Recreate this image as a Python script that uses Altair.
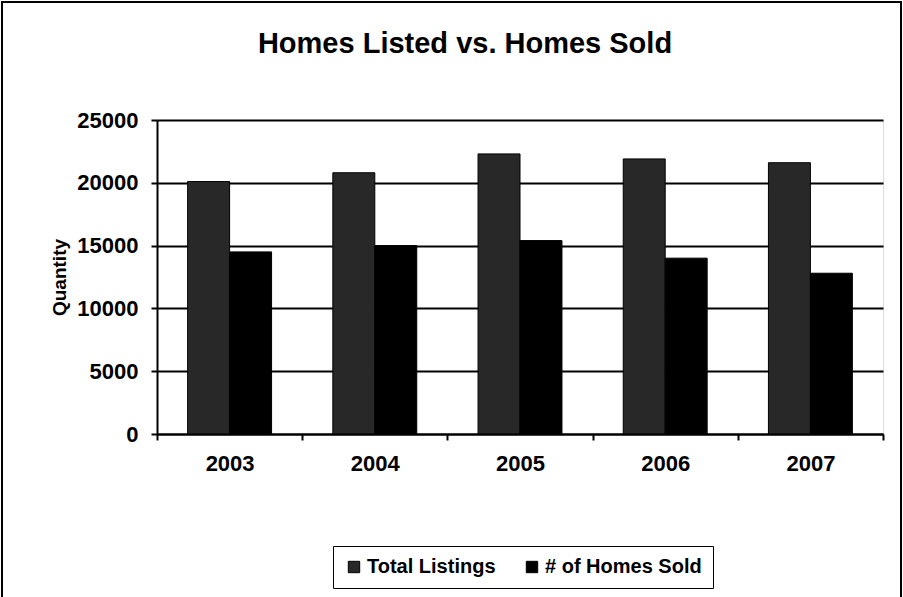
import altair as alt
import pandas as pd

years = ["2003", "2004", "2005", "2006", "2007"]
total_listings = [20100, 20800, 22300, 21900, 21600]
homes_sold = [14500, 15000, 15400, 14000, 12800]
series_names = ["Total Listings", "# of Homes Sold"]
series_colors = ["#282828", "#000000"]
y_ticks = [0, 5000, 10000, 15000, 20000, 25000]

rows = []
for i, y in enumerate(years):
    rows.append({"year": y, "series": series_names[0], "value": total_listings[i]})
    rows.append({"year": y, "series": series_names[1], "value": homes_sold[i]})
df = pd.DataFrame(rows)

FONT = "Liberation Sans"

bars = alt.Chart(df).mark_bar(stroke="#000000", strokeWidth=1).encode(
    x=alt.X("year:N", sort=years,
            scale=alt.Scale(paddingInner=0, paddingOuter=0),
            axis=alt.Axis(title=None, labelAngle=0, tickBand="extent",
                          labelFontSize=22, labelFont=FONT, labelColor="#000",
                          labelFontWeight="bold",
                          labelPadding=13, tickSize=6, tickColor="#000",
                          tickWidth=2, domainColor="#000", domainWidth=2)),
    xOffset=alt.XOffset("series:N", sort=series_names,
                        scale=alt.Scale(paddingInner=0, paddingOuter=0.73)),
    y=alt.Y("value:Q", scale=alt.Scale(domain=[0, 25000], nice=False),
            axis=alt.Axis(title="Quantity", values=y_ticks, format="d",
                          titleFontSize=19, titleFont=FONT, titleFontWeight="bold",
                          titleColor="#000", titlePadding=7,
                          labelFontSize=22, labelFont=FONT, labelColor="#000",
                          labelFontWeight="bold",
                          labelPadding=13, tickSize=6, tickColor="#000",
                          tickWidth=2, domainColor="#000", domainWidth=2,
                          grid=True, gridColor="#000", gridWidth=2)),
    color=alt.Color("series:N", sort=series_names,
                    scale=alt.Scale(domain=series_names, range=series_colors),
                    legend=alt.Legend(title=None, orient="none", direction="horizontal",
                                      legendX=176, legendY=426,
                                      symbolType="square", symbolSize=130,
                                      symbolStrokeColor="#000", symbolStrokeWidth=1,
                                      labelFontSize=20, labelFont=FONT, labelColor="#000",
                                      labelFontWeight="bold",
                                      labelOffset=3, columnPadding=26,
                                      padding=11, strokeColor="#000",
                                      fillColor="#ffffff")),
)

frame = alt.Chart(pd.DataFrame({"a": [0]})).mark_rect(
    fill=None, stroke="#000", strokeWidth=2
).encode(
    x=alt.value(-155), x2=alt.value(744),
    y=alt.value(-118), y2=alt.value(490),
)

chart = alt.layer(frame, bars).properties(
    width=726, height=314,
    autosize=alt.AutoSizeParams(type="none"),
    padding={"left": 157, "top": 120, "right": 20, "bottom": 163},
    title=alt.TitleParams("Homes Listed vs. Homes Sold", fontSize=29, font=FONT,
                          fontWeight="bold", color="#000", anchor="middle",
                          frame="group", dx=-55, offset=0, dy=58),
).configure_view(stroke="#000", strokeWidth=2).configure(background="#ffffff")

chart.save("out.html", embed_options={"renderer": "svg", "actions": False})
